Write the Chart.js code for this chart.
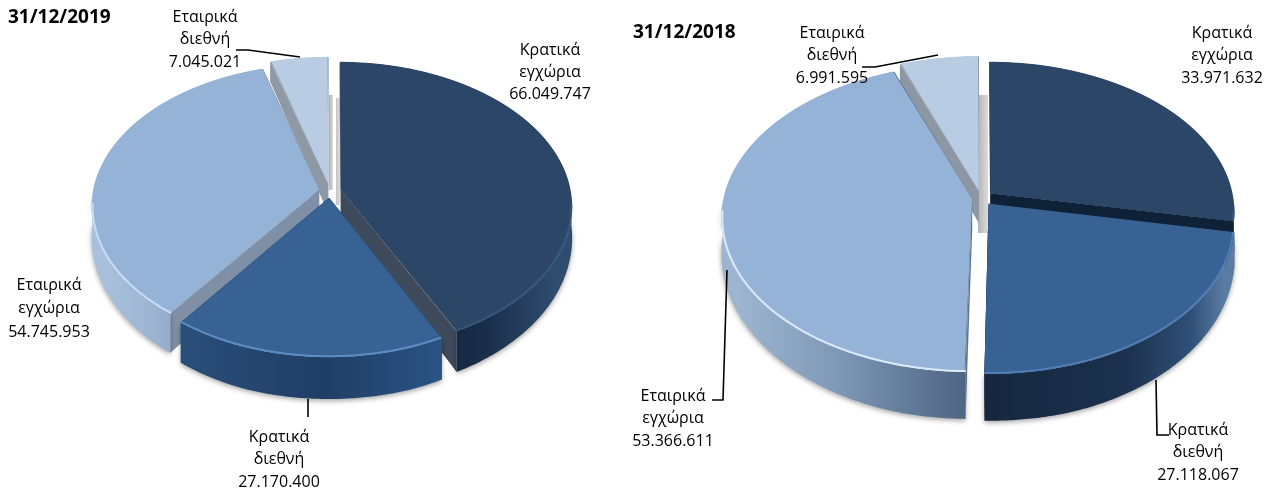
<!DOCTYPE html>
<html>
<head>
<meta charset="utf-8">
<style>
  html, body { margin: 0; padding: 0; background: #fff; overflow: hidden; }
  canvas { position: absolute; top: 0; }
  #pie2019 { left: 0; }
  #pie2018 { left: 600px; }
</style>
<script src="https://cdn.jsdelivr.net/npm/chart.js@4"></script>
</head>
<body>
<canvas id="pie2019" width="600" height="493"></canvas>
<canvas id="pie2018" width="672" height="493"></canvas>
<script>
// clockwise from 12 o'clock
const categories = ['Κρατικά εγχώρια', 'Κρατικά διεθνή', 'Εταιρικά εγχώρια', 'Εταιρικά διεθνή'];
const values2019 = [66049747, 27170400, 54745953, 7045021];
const values2018 = [33971632, 27118067, 53366611, 6991595];

const topColors = ['#2b4666', '#376293', '#95b3d7', '#b8cce4'];

// a, b: ground plane projection, y = a*v / (1 - b*v), x = u / (1 - b*v)
const look2019 = {
    title: '31/12/2019', titleAt: [8, 18],
    originX: 0, cx: 330, cy: 191, radius: 224, explode: [44, 44, 44, 44],
    a: 0.62, b: 0.0005, depth: [20, 42],
    labelAt: [[550, 50, 22], [279, 437, 22.5], [49, 285, 23.5], [205, 17, 22.5]],
    leaders: [
        [[308, 399], [308, 417]],
        [[236, 50], [248, 50], [300, 57]]
    ],
    sideBars: [[329, 95, 4, 95, '#b0b0b0'], [336, 98, 4, 107, '#c4c4c4']],
    cutColors: ['#3d4a5c', '#24466e', '#7f90a6', '#8f99a5'],
    rimColors: ['#35547a', '#5c8cc4', '#c6dcf6', '#c6d6ea'],
    walls: [
        [[0.72, '#14243b'], [0.85, '#1a2e4a'], [1, '#2f4c6e']],
        [[0.18, '#2a4e7a'], [0.48, '#1f3e64'], [0.76, '#2b5485']],
        [[0, '#a9c0dc'], [0.1, '#9db5d3'], [0.2, '#8aa3c2']],
        [[0, '#8f99a5'], [1, '#8f99a5']]
    ]
};

const look2018 = {
    title: '31/12/2018', titleAt: [633, 33],
    originX: 600, cx: 981, cy: 198, radius: 243, explode: [48, 48, 36, 48],
    a: 0.61, b: 0.00049, depth: [22, 47],
    labelAt: [[1222, 33, 22.5], [1198, 430, 22.5], [673, 396, 22.5], [832, 33, 22.5]],
    leaders: [
        [[1156, 380], [1157, 435], [1169, 435]],
        [[727, 270], [723, 400], [712, 400]],
        [[862, 67], [875, 67], [938, 55]]
    ],
    sideBars: [[978, 95, 10, 138, '#b4b4b4']],
    cutColors: ['#0f2136', '#1a2f4c', '#5d7594', '#8d97a3'],
    rimColors: ['#35547a', '#4e7eb4', '#dbe9f9', '#c6d6ea'],
    walls: [
        [[0.8, '#14243b'], [1, '#2f4c6e']],
        [[0.5, '#16273f'], [0.8, '#1b314e'], [0.93, '#2f4f76'], [1, '#5a7ba2']],
        [[0, '#9db5d0'], [0.2, '#7f99b8'], [0.48, '#4b6280']],
        [[0, '#8d97a3'], [1, '#8d97a3']]
    ]
};

function project(lk, u, v) {
    const w = 1 - lk.b * v;
    return { x: lk.cx - lk.originX + u / w, y: lk.cy + lk.a * v / w };
}

// depth of the pie grows towards the viewer
function depthAt(lk, y) {
    const top = project(lk, 0, -lk.radius).y;
    const bottom = project(lk, 0, lk.radius).y;
    const t = Math.min(1, Math.max(0, (y - top) / (bottom - top)));
    return lk.depth[0] + (lk.depth[1] - lk.depth[0]) * t;
}

// same numbers ArcElement.draw uses for an exploded slice, relative to the pie centre
function sliceShape(arc) {
    const off = arc.options.offset / 4;
    const mid = (arc.startAngle + arc.endAngle) / 2;
    const fix = 1 - Math.sin(Math.min(Math.PI, arc.circumference));
    return {
        u: Math.cos(mid) * off,
        v: Math.sin(mid) * off,
        r: arc.outerRadius + off * fix
    };
}

function rimPoints(lk, arc, shape, inset) {
    const pts = [];
    const r = shape.r - (inset || 0);
    const steps = Math.ceil((arc.endAngle - arc.startAngle) / 0.01);
    for (let i = 0; i <= steps; i++) {
        const a = arc.startAngle + (arc.endAngle - arc.startAngle) * i / steps;
        pts.push(project(lk, shape.u + Math.cos(a) * r, shape.v + Math.sin(a) * r));
    }
    return pts;
}

function fillPoly(ctx, pts) {
    ctx.beginPath();
    pts.forEach((p, i) => i ? ctx.lineTo(p.x, p.y) : ctx.moveTo(p.x, p.y));
    ctx.closePath();
    ctx.fill();
}

function extrude(lk, a, b) {
    return [a, b, { x: b.x, y: b.y + depthAt(lk, b.y) }, { x: a.x, y: a.y + depthAt(lk, a.y) }];
}

function drawSides(chart, lk) {
    const ctx = chart.ctx;
    const arcs = chart.getDatasetMeta(0).data;

    lk.sideBars.forEach(b => {
        const g = ctx.createLinearGradient(b[0] - lk.originX, 0, b[0] - lk.originX + b[2], 0);
        g.addColorStop(0, b[4]);
        g.addColorStop(1, '#dcdcdc');
        ctx.fillStyle = g;
        ctx.fillRect(b[0] - lk.originX, b[1], b[2], b[3]);
    });

    const order = arcs.map((a, i) => i).sort((p, q) => sliceShape(arcs[p]).v - sliceShape(arcs[q]).v);
    order.forEach(i => {
        const arc = arcs[i];
        const shape = sliceShape(arc);
        const rim = rimPoints(lk, arc, shape);
        const apex = project(lk, shape.u, shape.v);

        ctx.fillStyle = lk.cutColors[i];
        fillPoly(ctx, extrude(lk, apex, rim[0]));
        fillPoly(ctx, extrude(lk, apex, rim[rim.length - 1]));

        const front = rim.filter(p => p.y > lk.cy + 4);
        if (front.length > 1) {
            const left = lk.cx - lk.originX - lk.radius;
            const grad = ctx.createLinearGradient(left, 0, left + lk.radius * 2, 0);
            lk.walls[i].forEach(s => grad.addColorStop(s[0], s[1]));
            const lower = front.slice().reverse().map(p => ({ x: p.x, y: p.y + depthAt(lk, p.y) }));
            ctx.save();
            ctx.shadowColor = 'rgba(0,0,0,0.35)';
            ctx.shadowBlur = 5;
            ctx.shadowOffsetY = 2;
            ctx.fillStyle = grad;
            fillPoly(ctx, front.concat(lower));
            ctx.restore();
        }

        // under the top, so no background shows along the antialiased edges
        ctx.fillStyle = lk.cutColors[i];
        fillPoly(ctx, [apex].concat(rimPoints(lk, arc, shape, 1)));
    });
}

// tops: the arcs are drawn row by row, each row with its own scale from the projection
function drawTops(chart, lk) {
    const ctx = chart.ctx;
    const arcs = chart.getDatasetMeta(0).data;
    const cxs = lk.cx - lk.originX;
    for (let row = lk.cy - 180; row < lk.cy + 200; row++) {
        const q = (row + 0.5 - lk.cy) / lk.a;
        const v = q / (1 + lk.b * q);
        const w = 1 - lk.b * v;
        ctx.save();
        ctx.beginPath();
        ctx.rect(0, row, chart.width, 1);
        ctx.clip();
        ctx.translate(cxs, row + 0.5);
        ctx.scale(1 / w, lk.a / (w * w));
        ctx.translate(-arcs[0].x, -arcs[0].y - v);
        arcs.forEach(arc => arc.draw(ctx));
        ctx.restore();
    }
}

function drawRims(chart, lk) {
    const ctx = chart.ctx;
    chart.getDatasetMeta(0).data.forEach((arc, i) => {
        const shape = sliceShape(arc);
        const rim = rimPoints(lk, arc, shape, 1).filter(p => p.y > lk.cy + 12);
        if (!rim.length) return;
        ctx.beginPath();
        rim.forEach((p, n) => n ? ctx.lineTo(p.x, p.y) : ctx.moveTo(p.x, p.y));
        ctx.strokeStyle = lk.rimColors[i];
        ctx.lineWidth = 2;
        ctx.stroke();
    });
}

function drawTexts(chart, lk, values) {
    const ctx = chart.ctx;
    ctx.save();
    ctx.translate(-lk.originX, 0);
    ctx.fillStyle = '#000';
    ctx.strokeStyle = '#000';
    ctx.lineWidth = 1.6;
    lk.leaders.forEach(line => {
        ctx.beginPath();
        line.forEach((p, i) => i ? ctx.lineTo(p[0], p[1]) : ctx.moveTo(p[0], p[1]));
        ctx.stroke();
    });
    ctx.textBaseline = 'middle';
    ctx.textAlign = 'center';
    ctx.font = '16px "Open Sans"';
    categories.forEach((name, i) => {
        const words = name.split(' ');
        const lines = [words[0], words[1], String(values[i]).replace(/\B(?=(\d{3})+$)/g, '.')];
        const at = lk.labelAt[i];
        lines.forEach((t, n) => ctx.fillText(t, at[0], at[1] + n * at[2]));
    });
    ctx.textAlign = 'left';
    ctx.font = 'bold 19px "Open Sans"';
    ctx.fillText(lk.title, lk.titleAt[0], lk.titleAt[1]);
    ctx.restore();
}

const pie3d = {
    id: 'pie3d',
    beforeDatasetsDraw(chart) {
        const lk = chart.options.plugins.pie3d.look;
        drawSides(chart, lk);
        drawTops(chart, lk);
        drawRims(chart, lk);
        return false;
    },
    afterDraw(chart) {
        drawTexts(chart, chart.options.plugins.pie3d.look, chart.data.datasets[0].data);
    }
};

function makePie(id, values, lk) {
    return new Chart(document.getElementById(id).getContext('2d'), {
        type: 'pie',
        data: {
            labels: categories,
            datasets: [{
                data: values,
                backgroundColor: topColors,
                borderWidth: 0,
                offset: lk.explode
            }]
        },
        options: {
            responsive: false,
            animation: false,
            events: [],
            radius: lk.radius,
            plugins: {
                legend: { display: false },
                tooltip: { enabled: false },
                pie3d: { look: lk }
            }
        },
        plugins: [pie3d]
    });
}

makePie('pie2019', values2019, look2019);
makePie('pie2018', values2018, look2018);
</script>
</body>
</html>
